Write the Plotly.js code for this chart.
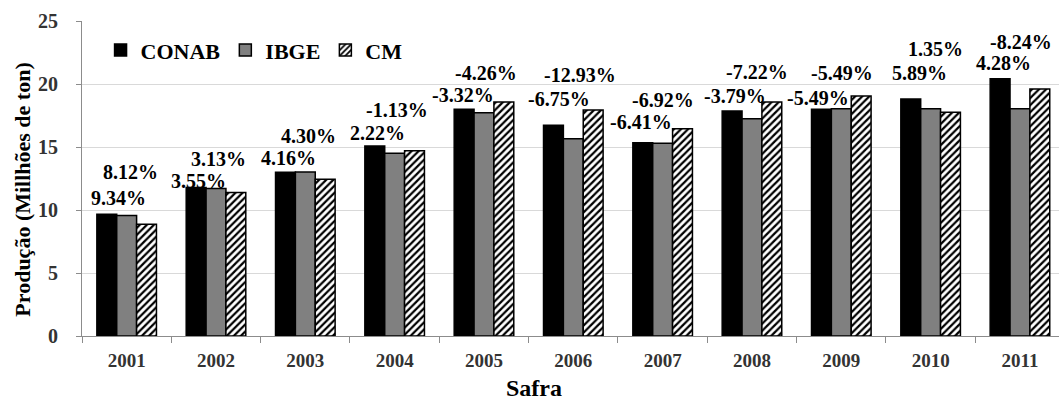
<!DOCTYPE html>
<html>
<head>
<meta charset="utf-8">
<script src="https://cdn.plot.ly/plotly-3.0.1.min.js"></script>
<style>html,body{margin:0;padding:0;background:#fff;}#chart{width:1059px;height:401px;}</style>
</head>
<body>
<div id="chart"></div>
<script>
// ---- data ----
const safras = ['2001','2002','2003','2004','2005','2006','2007','2008','2009','2010','2011'];
const conab = [9.67, 11.78, 13.00, 15.08, 17.99, 16.72, 15.34, 17.85, 17.99, 18.80, 20.41];
const ibge  = [9.56, 11.70, 13.02, 14.50, 17.72, 15.66, 15.29, 17.24, 18.04, 18.04, 18.04];
const cm    = [8.87, 11.38, 12.44, 14.71, 18.57, 17.93, 16.45, 18.57, 19.04, 17.75, 19.60];
const pctLower = ['9.34%','3.55%','4.16%','2.22%','-3.32%','-6.75%','-6.41%','-3.79%','-5.49%','5.89%','4.28%'];
const pctUpper = ['8.12%','3.13%','4.30%','-1.13%','-4.26%','-12.93%','-6.92%','-7.22%','-5.49%','1.35%','-8.24%'];

// ---- label placement (layout only) ----
const lowerY = [10.94, 12.33, 14.10, 16.13, 19.12, 18.78, 17.00, 19.04, 18.86, 20.84, 21.68];
const upperY = [13.04, 14.03, 15.87, 17.93, 20.89, 20.71, 18.72, 20.97, 20.89, 22.74, 23.34];
const lowerDx = [-8, -17.6, -17.3, -17.4, -21.4, -14.5, -21.8, -16.6, -23.6, -10.7, -16.7];
const upperDx = [3.5, 2.7, 3.4, 2.8, 1.6, 6.2, 0.2, 5.4, 0.3, 5.1, 1.3];

const FONT = 'Liberation Serif';
const line = {color: '#000', width: 1.5};

const traces = [
  {type: 'bar', name: 'CONAB', x: safras, y: conab, marker: {color: '#000000', line: line}},
  {type: 'bar', name: 'IBGE', x: safras, y: ibge, marker: {color: '#808080', line: line}},
  {type: 'bar', name: 'CM', x: safras, y: cm,
   marker: {color: '#ffffff', line: line,
            pattern: {shape: '/', fgcolor: '#000000', bgcolor: '#ffffff', size: 5, solidity: 0.45}}}
];

const annotations = [];
safras.forEach((s, i) => {
  annotations.push({x: i, y: lowerY[i], xref: 'x', yref: 'y', text: pctLower[i], showarrow: false,
    xshift: lowerDx[i], xanchor: 'center', yanchor: 'middle',
    font: {family: FONT, size: 20, color: '#000', weight: 'bold'}});
  annotations.push({x: i, y: upperY[i], xref: 'x', yref: 'y', text: pctUpper[i], showarrow: false,
    xshift: upperDx[i], xanchor: 'center', yanchor: 'middle',
    font: {family: FONT, size: 20, color: '#000', weight: 'bold'}});
});
annotations.push({xref: 'paper', yref: 'paper', x: -0.0607, y: 0.4636, textangle: -90,
  text: 'Produção (Millhões de ton)', showarrow: false, xanchor: 'center', yanchor: 'middle',
  font: {family: FONT, size: 22, color: '#000', weight: 'bold'}});
annotations.push({xref: 'paper', yref: 'paper', x: 0.4625, y: -0.1638,
  text: 'Safra', showarrow: false, xanchor: 'center', yanchor: 'middle',
  font: {family: FONT, size: 24, color: '#000', weight: 'bold'}});

const layout = {
  width: 1059, height: 401,
  margin: {l: 82, r: 0, t: 21, b: 65},
  paper_bgcolor: '#fff', plot_bgcolor: '#fff',
  barmode: 'group', bargap: 0.333, bargroupgap: 0,
  showlegend: true,
  legend: {orientation: 'h', x: 0.019, y: 0.907, xanchor: 'left', yanchor: 'middle',
    bgcolor: 'rgba(0,0,0,0)', font: {family: FONT, size: 22, color: '#000', weight: 'bold'},
    itemwidth: 30, tracegroupgap: 0},
  xaxis: {type: 'category', range: [-0.5, 10.437], showgrid: false,
    ticks: 'outside', tickson: 'boundaries', ticklen: 6, tickcolor: '#8c8c8c', tickwidth: 1,
    showline: true, linecolor: '#8c8c8c', linewidth: 1,
    ticklabelstandoff: 7,
    tickfont: {family: FONT, size: 19, color: '#333', weight: 'bold'}, fixedrange: true},
  yaxis: {range: [0, 25], dtick: 5, tick0: 0, showgrid: true, gridcolor: '#d9d9d9', gridwidth: 1,
    zeroline: false, showline: true, linecolor: '#8c8c8c', linewidth: 1,
    ticks: 'outside', ticklen: 5, tickcolor: '#8c8c8c',
    ticklabelstandoff: 14,
    tickfont: {family: FONT, size: 20, color: '#333', weight: 'bold'}, fixedrange: true},
  annotations: annotations
};

Plotly.newPlot('chart', traces, layout, {displayModeBar: false, staticPlot: true});
</script>
</body>
</html>
